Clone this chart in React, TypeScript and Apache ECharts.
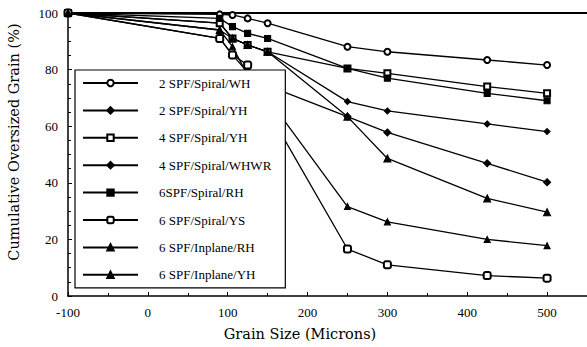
import React, { useEffect, useRef } from "react";
import * as echarts from "echarts";

const grainSizes = [-100, 90, 106, 125, 150, 250, 300, 425, 500];

const seriesNames = [
  "2 SPF/Spiral/WH",
  "2 SPF/Spiral/YH",
  "4 SPF/Spiral/YH",
  "4 SPF/Spiral/WHWR",
  "6SPF/Spiral/RH",
  "6 SPF/Spiral/YS",
  "6 SPF/Inplane/RH",
  "6 SPF/Inplane/YH",
];

const wh2 = [100, 99.5, 99.3, 98.1, 96.4, 88.1, 86.3, 83.4, 81.6];
const yh2 = [100, 96.4, 91.0, 88.7, 86.3, 68.7, 65.4, 60.8, 58.1];
const yh4 = [100, 96.4, 91.0, 88.7, 86.3, 80.4, 78.7, 74.0, 71.6];
const whwr4 = [100, 91.0, 85.2, 79.0, 74.3, 63.4, 57.8, 46.9, 40.2];
const rh6 = [100, 98.1, 95.2, 92.8, 91.0, 80.4, 77.0, 71.6, 69.0];
const ys6 = [100, 91.0, 85.2, 81.6, 65.7, 16.6, 11.0, 7.2, 6.3];
const inRh6 = [100, 94.0, 91.0, 88.7, 86.3, 63.4, 48.6, 34.5, 29.6];
const inYh6 = [100, 94.0, 88.1, 78.0, 70.0, 31.6, 26.2, 20.0, 17.8];

const seriesValues = [wh2, yh2, yh4, whwr4, rh6, ys6, inRh6, inYh6];
const seriesSymbols = [
  "emptyCircle",
  "diamond",
  "emptyRect",
  "diamond",
  "rect",
  "emptyRoundRect",
  "triangle",
  "triangle",
];
const symbolSizes = [6, 6, 6, 7, 6, 7, 7, 6];

const xTicks = { min: -100, max: 550, interval: 100 };
const yTicks = { min: 0, max: 100, interval: 20 };

const FONT = "Liberation Serif";
const TITLE_FONT = "DejaVu Serif";

export default function App() {
  const ref = useRef<HTMLDivElement>(null);

  useEffect(() => {
    document.body.style.margin = "0";
    if (!ref.current) return;
    const chart = echarts.init(ref.current, undefined, { renderer: "svg" });

    const series = seriesNames.map((name, i) => ({
      name,
      type: "line",
      data: grainSizes.map((x, j) => [x, seriesValues[i][j]]),
      symbol: seriesSymbols[i],
      symbolSize: symbolSizes[i],
      showSymbol: true,
      lineStyle: { color: "#000", width: 1.3 },
      itemStyle: { color: "#000", borderColor: "#000", borderWidth: 1.1 },
      emphasis: { disabled: true },
      z: 3,
    }));

    chart.setOption({
      animation: false,
      backgroundColor: "#fff",
      textStyle: { fontFamily: FONT },
      grid: { left: 68, right: 0, top: 13, bottom: 51, containLabel: false },
      xAxis: [
        {
          type: "value",
          min: xTicks.min,
          max: xTicks.max,
          interval: xTicks.interval,
          axisLine: { show: true, onZero: false, lineStyle: { color: "#000", width: 1.5 } },
          axisTick: { show: true, inside: true, length: 4, lineStyle: { color: "#000" } },
          minorTick: { show: true, splitNumber: 2, length: 3, lineStyle: { color: "#000" } },
          splitLine: { show: false },
          axisLabel: {
            color: "#000",
            fontSize: 13,
            fontFamily: FONT,
            margin: 10,
            showMaxLabel: false,
          },
        },
        {
          type: "value",
          position: "top",
          min: xTicks.min,
          max: xTicks.max,
          axisLine: { show: true, onZero: false, lineStyle: { color: "#000", width: 2 } },
          axisTick: { show: false },
          axisLabel: { show: false },
          splitLine: { show: false },
        },
      ],
      yAxis: {
        type: "value",
        min: yTicks.min,
        max: yTicks.max,
        interval: yTicks.interval,
        axisLine: { show: true, onZero: false, lineStyle: { color: "#000", width: 1.5 } },
        axisTick: { show: true, inside: true, length: 4, lineStyle: { color: "#000" } },
        minorTick: { show: true, splitNumber: 4, length: 3, lineStyle: { color: "#000" } },
        splitLine: { show: false },
        axisLabel: { color: "#000", fontSize: 13, fontFamily: FONT, margin: 10 },
      },
      legend: {
        orient: "vertical",
        left: 75,
        top: 70,
        itemWidth: 55,
        itemHeight: 8,
        itemGap: 13.4,
        padding: [6, 14, 6, 7],
        backgroundColor: "#fff",
        borderColor: "#000",
        borderWidth: 1.2,
        selectedMode: false,
        textStyle: {
          color: "#000",
          fontSize: 13,
          fontFamily: FONT,
          lineHeight: 14,
          padding: [0, 0, 0, 16],
        },
        data: seriesNames,
        z: 10,
      },
      graphic: [
        {
          type: "text",
          x: 14,
          y: 142,
          rotation: Math.PI / 2,
          style: {
            text: "Cumulative Oversized Grain (%)",
            fontSize: 14.5,
            fontFamily: TITLE_FONT,
            fill: "#000",
            textAlign: "center",
            textVerticalAlign: "middle",
          },
        },
        {
          type: "text",
          x: 300,
          y: 334,
          style: {
            text: "Grain Size (Microns)",
            fontSize: 14.5,
            fontFamily: TITLE_FONT,
            fill: "#000",
            textAlign: "center",
            textVerticalAlign: "middle",
          },
        },
      ],
      series,
    });

    return () => chart.dispose();
  }, []);

  return <div ref={ref} style={{ width: 587, height: 347 }} />;
}
